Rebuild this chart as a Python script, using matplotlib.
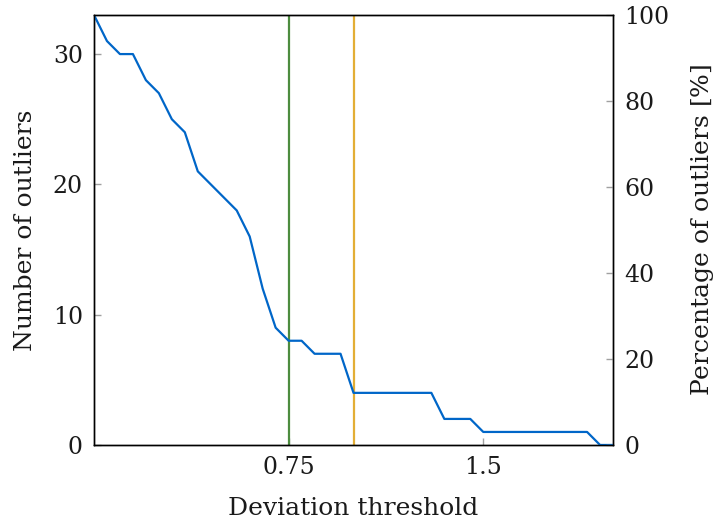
import matplotlib
matplotlib.use("Agg")
import matplotlib.pyplot as plt

# deviation thresholds and number of outliers
thresholds = [0.0, 0.05, 0.1, 0.15, 0.2, 0.25, 0.3, 0.35, 0.4, 0.45,
              0.5, 0.55, 0.6, 0.65, 0.7, 0.75, 0.8, 0.85, 0.9, 0.95,
              1.0, 1.05, 1.1, 1.15, 1.2, 1.25, 1.3, 1.35, 1.4, 1.45,
              1.5, 1.55, 1.6, 1.65, 1.7, 1.75, 1.8, 1.85, 1.9, 1.95, 2.0]
outliers = [33, 31, 30, 30, 28, 27, 25, 24, 21, 20,
            19, 18, 16, 12, 9, 8, 8, 7, 7, 7,
            4, 4, 4, 4, 4, 4, 4, 2, 2, 2,
            1, 1, 1, 1, 1, 1, 1, 1, 1, 0, 0]
total = 33

vlines = [0.75, 1.0]
vline_colors = ['#4d8c3f', '#e3ae36']
xticks = [0.75, 1.5]
xtick_labels = ['0.75', '1.5']
yticks = [0, 10, 20, 30]
pct_ticks = [0, 20, 40, 60, 80, 100]

plt.rcParams['font.family'] = ['DejaVu Serif']
plt.rcParams['mathtext.fontset'] = 'dejavuserif'

fig = plt.figure(figsize=(7.18, 5.24), dpi=100)
ax = fig.add_axes([0.1309, 0.1508, 0.7229, 0.8206])

ax.plot(thresholds, outliers, color='#0066c8', linewidth=1.6, zorder=3)
for xv, c in zip(vlines, vline_colors):
    ax.axvline(xv, color=c, linewidth=1.6, zorder=2)

ax.set_xlim(0, 2)
ax.set_ylim(0, total)
ax.set_xticks(xticks)
ax.set_xticklabels(xtick_labels)
ax.set_yticks(yticks)
ax.tick_params(direction='in', length=5, color='#a0a0a0', width=1,
               labelsize=17, labelcolor='#1a1a1a', pad=8)
ax.set_xlabel('Deviation threshold', fontsize=18, color='#1a1a1a', labelpad=13)
ax.set_ylabel('Number of outliers', fontsize=18, color='#1a1a1a', labelpad=11)

ax2 = ax.twinx()
ax2.set_ylim(0, 100)
ax2.set_yticks(pct_ticks)
ax2.tick_params(direction='in', length=5, color='#a0a0a0', width=1,
                labelsize=17, labelcolor='#1a1a1a', pad=8)
ax2.set_ylabel('Percentage of outliers $[\\%]$', fontsize=18, color='#1a1a1a', labelpad=14)

for a in (ax, ax2):
    for s in a.spines.values():
        s.set_linewidth(1.0)
        s.set_color('black')

fig.savefig('out.png', dpi=100)
